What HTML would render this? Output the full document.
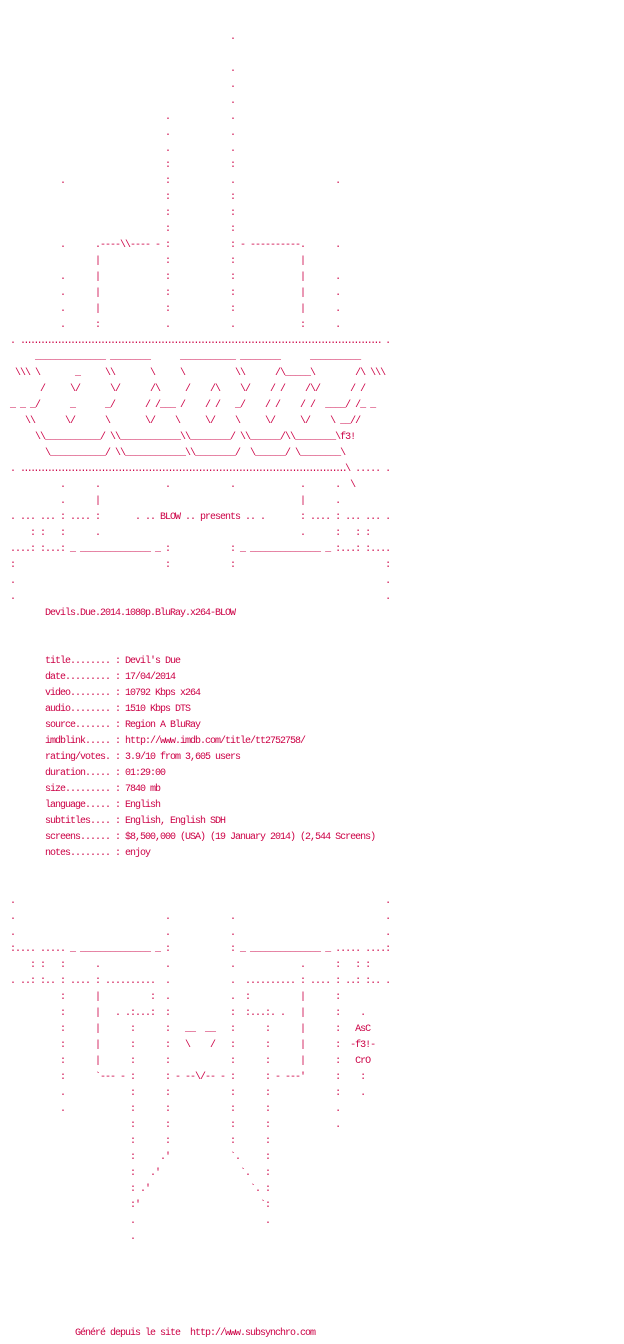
<!DOCTYPE html>
<html>
<head>
<meta charset="utf-8">
<style>
html,body{margin:0;padding:0;background:#fff;width:624px;height:1344px;overflow:hidden;}
pre{margin:0;padding:30px 0 0 5px;font-family:"Liberation Mono",monospace;font-size:10px;line-height:16px;letter-spacing:-1px;color:#cc0045;white-space:pre;}
.d1{letter-spacing:-2.667px;}
.d2{letter-spacing:-2.65px;}
</style>
</head>
<body>
<pre>                                             .

                                             .
                                             .
                                             .
                                .            .
                                .            .
                                .            .
                                :            :
           .                    :            .                    .
                                :            :
                                :            :
                                :            :
           .      .----\\---- - :            : - ----------.      .
                  |             :            :             |
           .      |             :            :             |      .
           .      |             :            :             |      .
           .      |             :            :             |      .
           .      :             .            .             :      .
 . <span class="d1">............................................................................................................</span> .
      ______________ ________      ___________ ________      __________
  \\\ \       _     \\       \     \          \\      /\_____\        /\ \\\
       /     \/      \/      /\     /    /\    \/    / /    /\/      / /
 _ _ _/      _      _/      / /___ /    / /   _/    / /    / /  ____/ /_ _
    \\      \/      \       \/    \     \/    \     \/     \/    \ __//
      \\___________/ \\____________\\________/ \\______/\\________\f3!
        \___________/ \\____________\\________/  \______/ \________\
 . <span class="d2">.................................................................................................</span>\ ..... .
           .      .             .            .             .      .  \
           .      |                                        |      .
 . ... ... : .... :       . .. BLOW .. presents .. .       : .... : ... ... .
     : :   :      .                                        .      :   : :
 ....: :...: _ ______________ _ :            : _ ______________ _ :...: :....
 :                              :            :                              :
 .                                                                          .
 .                                                                          .
        Devils.Due.2014.1080p.BluRay.x264-BLOW


        title........ : Devil's Due
        date......... : 17/04/2014
        video........ : 10792 Kbps x264
        audio........ : 1510 Kbps DTS
        source....... : Region A BluRay
        imdblink..... : http://www.imdb.com/title/tt2752758/
        rating/votes. : 3.9/10 from 3,605 users
        duration..... : 01:29:00
        size......... : 7840 mb
        language..... : English
        subtitles.... : English, English SDH
        screens...... : $8,500,000 (USA) (19 January 2014) (2,544 Screens)
        notes........ : enjoy


 .                                                                          .
 .                              .            .                              .
 .                              .            .                              .
 :.... ..... _ ______________ _ :            : _ ______________ _ ..... ....:
     : :   :      .             .            .             .      :   : :
 . ..: :.. : .... : ..........  .            .  .......... : .... : ..: :.. .
           :      |          :  .            .  :          |      :
           :      |   . .:...:  :            :  :...:. .   |      :    .
           :      |      :      :   __  __   :      :      |      :   AsC
           :      |      :      :   \    /   :      :      |      :  -f3!-
           :      |      :      :            :      :      |      :   CrO
           :      `--- - :      : - --\/-- - :      : - ---'      :    :
           .             :      :            :      :             :    .
           .             :      :            :      :             .
                         :      :            :      :             .
                         :      :            :      :
                         :     .'            `.     :
                         :   .'                `.   :
                         : .'                    `. :
                         :'                        `:
                         .                          .
                         .





              Généré depuis le site  http://www.subsynchro.com</pre>
</body>
</html>
